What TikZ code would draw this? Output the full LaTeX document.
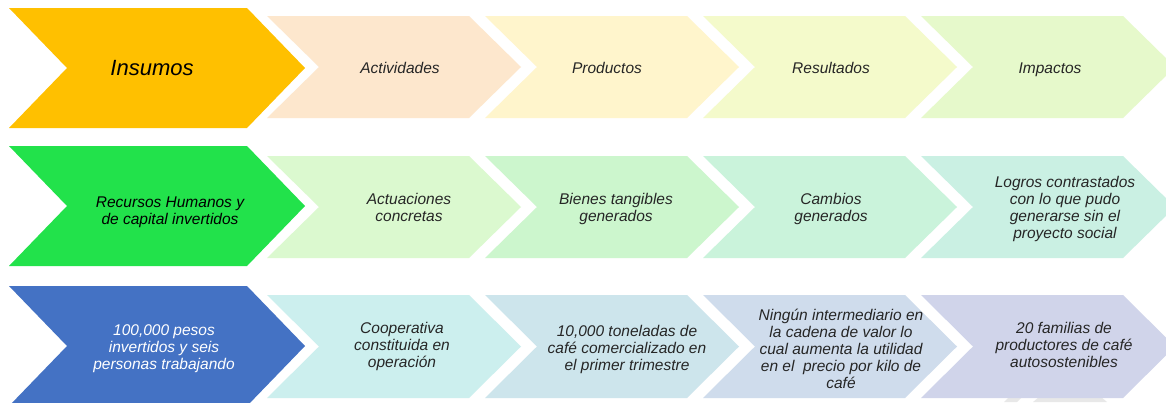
\documentclass[tikz,border=0pt]{standalone}
\usepackage{fontspec}
\setmainfont{Liberation Sans}
\definecolor{cyel}{HTML}{FFC000}
\definecolor{cgrn}{HTML}{22E24B}
\definecolor{cblu}{HTML}{4472C4}
\definecolor{ra}{HTML}{FDE7CD}
\definecolor{rb}{HTML}{FFF5CC}
\definecolor{rc}{HTML}{F4FACB}
\definecolor{rd}{HTML}{E6F9CB}
\definecolor{sa}{HTML}{DBF9CF}
\definecolor{sb}{HTML}{CCF6CD}
\definecolor{sc}{HTML}{CAF3DB}
\definecolor{sd}{HTML}{CAF0E3}
\definecolor{ta}{HTML}{CCEFEE}
\definecolor{tb}{HTML}{CDE5EC}
\definecolor{tc}{HTML}{CFDCEC}
\definecolor{td}{HTML}{D0D4EA}
\definecolor{ctxt}{HTML}{262626}
\newcommand\mychev[6]{%
  \fill[#1] (#2,#3) -- ++(#4,0) -- ++(#5,#6) -- ++(-#5,#6) -- ++(-#4,0) -- ++(#5,-#6) -- cycle;}
\tikzset{
  txt/.style={align=center, text=ctxt, font=\itshape\fontsize{15.5}{17}\selectfont, inner sep=0pt, text depth=3.5pt, yshift=-2.5pt},
  big/.style={txt, font=\itshape\fontsize{22}{24}\selectfont, text=black, text depth=5pt},
}
\begin{document}
\begin{tikzpicture}[x=1pt,y=-1pt]
\useasboundingbox (0,0) rectangle (1166,402);
\clip (0,0) rectangle (1166,402);
\fill[white] (0,0) rectangle (1166,402);
% faint grey marks at bottom
\fill[black!9] (1004,402) -- (1009,397) -- (1022,397) -- (1017,402) -- cycle;
\fill[black!9] (1033,402) -- (1039,397) -- (1101,397) -- (1107,402) -- cycle;
% row 1
\mychev{cyel}{9}{8}{238}{58}{60}
\mychev{ra}{267}{16}{202}{52}{51}
\mychev{rb}{485}{16}{202}{52}{51}
\mychev{rc}{703}{16}{202}{52}{51}
\mychev{rd}{921}{16}{202}{52}{51}
% row 2
\mychev{cgrn}{9}{146}{238}{58}{60}
\mychev{sa}{267}{156}{202}{52}{51}
\mychev{sb}{485}{156}{202}{52}{51}
\mychev{sc}{703}{156}{202}{52}{51}
\mychev{sd}{921}{156}{202}{52}{51}
% row 3
\mychev{cblu}{9}{286}{238}{58}{60}
\mychev{ta}{267}{295}{202}{52}{51.5}
\mychev{tb}{485}{295}{202}{52}{51.5}
\mychev{tc}{703}{295}{202}{52}{51.5}
\mychev{td}{921}{295}{202}{52}{51.5}
% texts row 1
\node[big] (h0) at (152,68) {Insumos};
\node[txt] (h1) at (400,67) {Actividades};
\node[txt] (h2) at (607,67) {Productos};
\node[txt] (h3) at (831,67) {Resultados};
\node[txt] (h4) at (1050,67) {Impactos};
% texts row 2
\node[txt, text=black] (d0) at (170,210) {Recursos Humanos y\\de capital invertidos};
\node[txt] (d1) at (409,207) {Actuaciones\\concretas};
\node[txt] (d2) at (616,207) {Bienes tangibles\\generados};
\node[txt] (d3) at (831,207) {Cambios\\generados};
\node[txt] (d4) at (1065,207) {Logros contrastados\\con lo que pudo\\generarse sin el\\proyecto social};
% texts row 3
\node[txt, text=white] (e0) at (164,346) {100,000 pesos\\invertidos y seis\\personas trabajando};
\node[txt] (e1) at (402,344) {Cooperativa\\constituida en\\operación};
\node[txt] (e2) at (627,347) {10,000 toneladas de\\café comercializado en\\el primer trimestre};
\node[txt] (e3) at (841,348) {Ningún intermediario en\\la cadena de valor lo\\cual aumenta la utilidad\\en el\ \ precio por kilo de\\café};
\node[txt] (e4) at (1064,344) {20 familias de\\productores de café\\autosostenibles};
\end{tikzpicture}
\end{document}
